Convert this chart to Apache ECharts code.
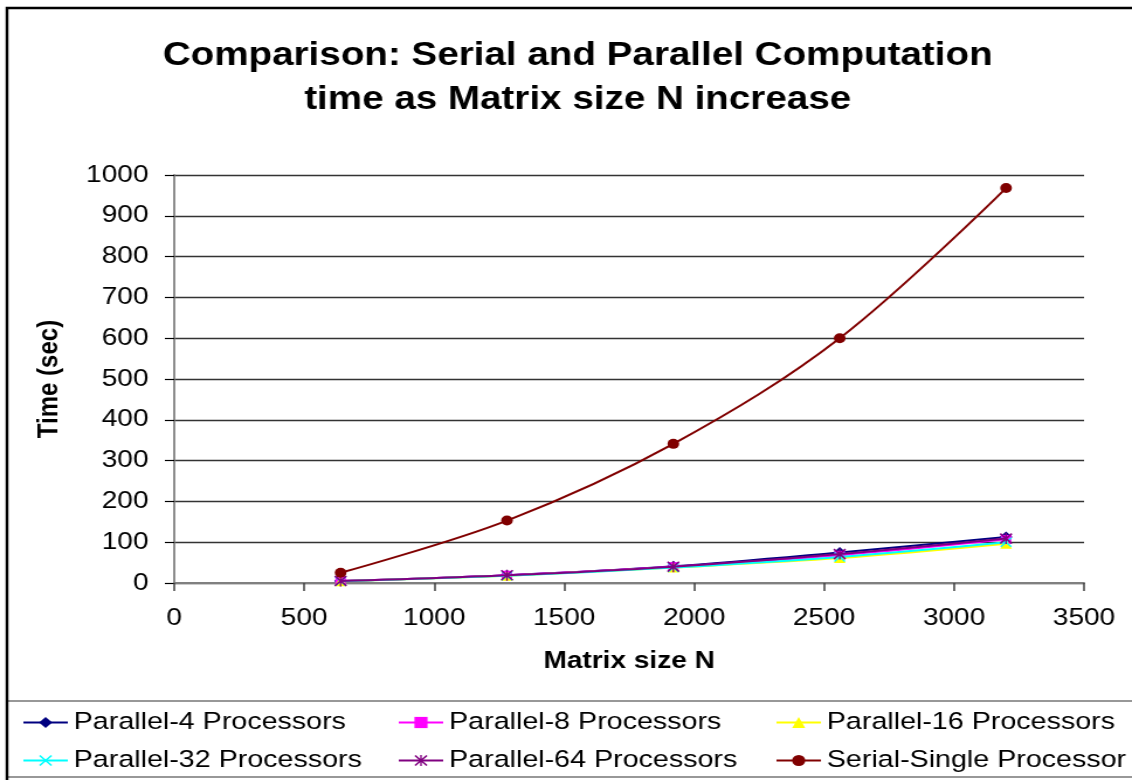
<!DOCTYPE html>
<html>
<head>
<meta charset="utf-8">
<script src="https://cdn.jsdelivr.net/npm/echarts@6/dist/echarts.min.js"></script>
<style>
  html, body { margin: 0; padding: 0; background: #ffffff; overflow: hidden; }
  #chart { width: 968px; height: 780px; transform: scaleX(1.1694); transform-origin: 0 0; }
</style>
</head>
<body>
<div id="chart"></div>
<script>
// ---- data ----
const matrixSizes = [640, 1280, 1920, 2560, 3200];
const parallel4   = [5, 19, 41, 75, 113];
const parallel8   = [5, 19, 40, 68, 107];
const parallel16  = [4, 18, 38, 61, 96];
const parallel32  = [4, 18, 38, 64, 100];
const parallel64  = [5, 19, 40, 71, 109];
const serial      = [25, 153, 341, 600, 968];
const seriesNames = ['Parallel-4 Processors', 'Parallel-8 Processors', 'Parallel-16 Processors',
                     'Parallel-32 Processors', 'Parallel-64 Processors', 'Serial-Single Processor'];
const titleText = 'Comparison: Serial and Parallel Computation\ntime as Matrix size N increase';
const xName = 'Matrix size N';
const yName = 'Time (sec)';

const FONT = "'Liberation Sans', Arial, sans-serif";
const crossPath = 'path://M0,1L1,0L5,4L9,0L10,1L6,5L10,9L9,10L5,6L1,10L0,9L4,5Z';
const starPath = 'path://M0,1L1,0L5,4L9,0L10,1L6,5L10,9L9,10L5,6L1,10L0,9L4,5Z M4.4,0L5.6,0L5.6,10L4.4,10Z';

const styles = [
  { color: '#000080', symbol: 'diamond', size: 11 },
  { color: '#FF00FF', symbol: 'rect', size: 9 },
  { color: '#FFFF00', symbol: 'triangle', size: 10 },
  { color: '#00FFFF', symbol: crossPath, size: 10 },
  { color: '#800080', symbol: starPath, size: 11 },
  { color: '#800000', symbol: 'circle', size: 10 }
];
const values = [parallel4, parallel8, parallel16, parallel32, parallel64, serial];

const series = values.map((arr, k) => ({
  name: seriesNames[k],
  type: 'line',
  data: matrixSizes.map((x, i) => [x, arr[i]]),
  smooth: 0.35,
  symbol: styles[k].symbol,
  symbolSize: styles[k].size,
  showAllSymbol: true,
  lineStyle: { color: styles[k].color, width: 2 },
  itemStyle: { color: styles[k].color },
  emphasis: { disabled: true },
  z: 3 + k
}));

function legendCol(names, left) {
  return {
    orient: 'vertical', left: left, top: 705,
    itemWidth: 38, itemHeight: 14, itemGap: 13,
    selectedMode: false,
    textStyle: { fontFamily: FONT, fontSize: 24.5, color: '#000', lineHeight: 24 },
    data: names
  };
}

const plain = v => String(v);

const chart = echarts.init(document.getElementById('chart'), null, { renderer: 'canvas' });
chart.setOption({
  animation: false,
  backgroundColor: '#ffffff',
  title: {
    text: titleText,
    left: 489, top: 29, textAlign: 'center',
    textStyle: { fontFamily: FONT, fontSize: 33, fontWeight: 'bold', color: '#000', lineHeight: 44 }
  },
  legend: [
    legendCol([seriesNames[0], seriesNames[3]], 14),
    legendCol([seriesNames[1], seriesNames[4]], 335),
    legendCol([seriesNames[2], seriesNames[5]], 658)
  ],
  grid: { left: 149, right: 41, top: 175, bottom: 197, containLabel: false },
  xAxis: {
    type: 'value', min: 0, max: 3500, interval: 500,
    name: xName, nameLocation: 'middle', nameGap: 66,
    nameTextStyle: { fontFamily: FONT, fontSize: 24, fontWeight: 'bold', color: '#000' },
    axisLine: { show: true, lineStyle: { color: '#808080', width: 2 } },
    axisTick: { show: true, length: 8, lineStyle: { color: '#404040', width: 1.5 } },
    axisLabel: { fontFamily: FONT, fontSize: 24, color: '#000', margin: 23, formatter: plain },
    splitLine: { show: false }
  },
  yAxis: {
    type: 'value', min: 0, max: 1000, interval: 100,
    name: yName, nameLocation: 'middle', nameGap: 95, nameRotate: 90,
    nameTextStyle: { fontFamily: FONT, fontSize: 24, fontWeight: 'bold', color: '#000' },
    axisLine: { show: true, lineStyle: { color: '#808080', width: 1.8 } },
    axisTick: { show: true, length: 8, lineStyle: { color: '#000', width: 1.2 } },
    axisLabel: { fontFamily: FONT, fontSize: 24, color: '#000', margin: 22, formatter: plain },
    splitLine: { show: true, lineStyle: { color: '#333333', width: 1.4 } }
  },
  graphic: [
    { type: 'rect', shape: { x: 6, y: 8, width: 2000, height: 2000 },
      style: { fill: 'none', stroke: '#000', lineWidth: 2.4 }, silent: true, z: 100 },
    { type: 'rect', shape: { x: 6, y: 701, width: 2000, height: 76 },
      style: { fill: 'none', stroke: '#777', lineWidth: 1.6 }, silent: true, z: 99 }
  ],
  series: series
});
</script>
</body>
</html>
